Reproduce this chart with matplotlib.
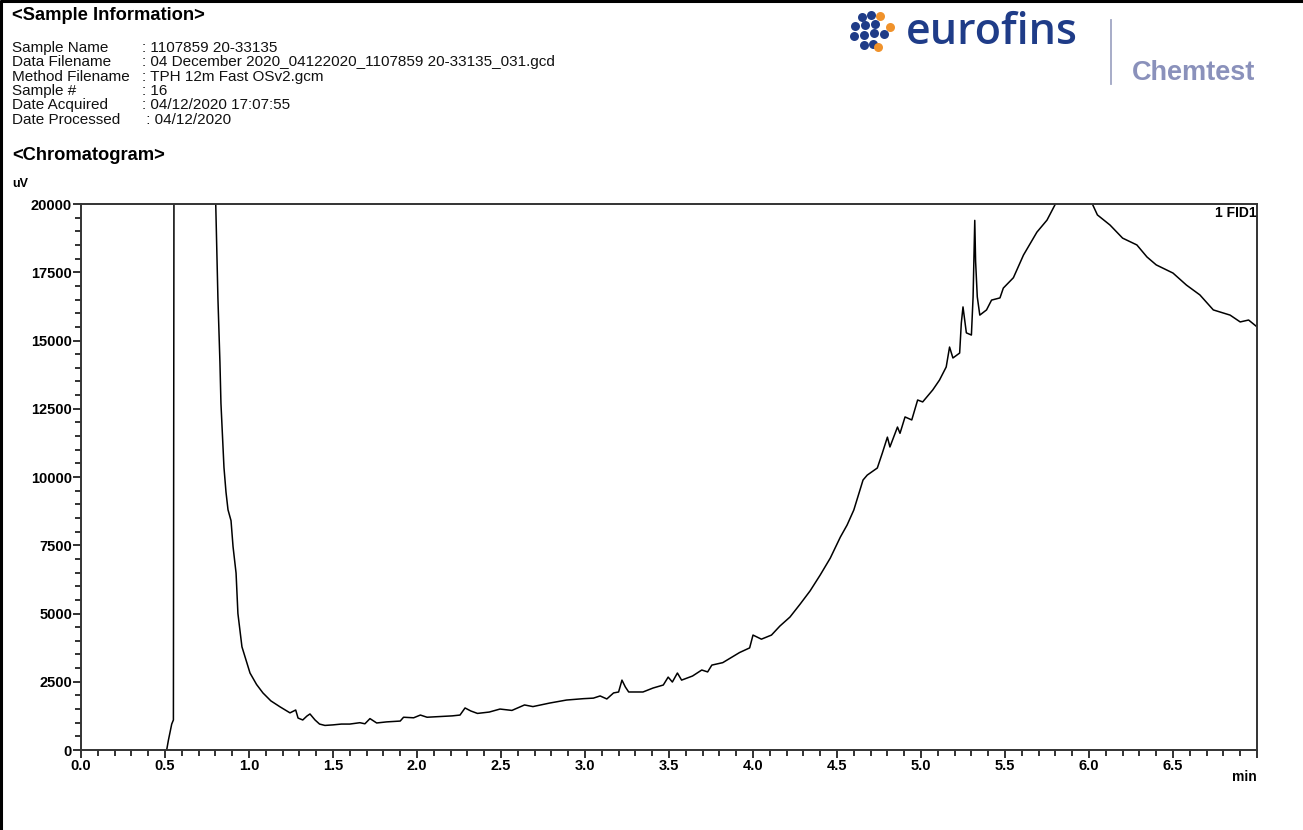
import matplotlib
matplotlib.use('Agg')
import matplotlib.pyplot as plt
from matplotlib.ticker import MultipleLocator

plt.rcParams['font.family'] = ['Liberation Sans', 'DejaVu Sans']

# Intestazione campione
info_labels = ['Sample Name', 'Data Filename', 'Method Filename', 'Sample #', 'Date Acquired', 'Date Processed']
info_values = [': 1107859 20-33135',
               ': 04 December 2020_04122020_1107859 20-33135_031.gcd',
               ': TPH 12m Fast OSv2.gcm',
               ': 16',
               ': 04/12/2020 17:07:55',
               ' : 04/12/2020']

# Cromatogramma (min, uV)
tempo = [0.51, 0.52, 0.53, 0.54, 0.55, 0.555, 0.56, 0.79, 0.802, 0.815, 0.827, 0.833, 0.843, 0.851,
         0.863, 0.875, 0.893, 0.905, 0.923, 0.934, 0.958, 1.006, 1.045, 1.083, 1.13, 1.185, 1.244,
         1.278, 1.292, 1.32, 1.345, 1.363, 1.393, 1.42, 1.452, 1.5, 1.55, 1.6, 1.66, 1.69, 1.72,
         1.76, 1.82, 1.9, 1.92, 1.98, 2.02, 2.06, 2.21, 2.256, 2.286, 2.32, 2.36, 2.43, 2.494,
         2.565, 2.64, 2.69, 2.79, 2.89, 2.99, 3.05, 3.09, 3.13, 3.17, 3.2, 3.22, 3.24, 3.26,
         3.345, 3.405, 3.466, 3.495, 3.52, 3.55, 3.575, 3.64, 3.695, 3.73, 3.755, 3.82, 3.92,
         3.98, 4.0, 4.05, 4.11, 4.16, 4.22, 4.28, 4.34, 4.4, 4.46, 4.52, 4.56, 4.6, 4.655, 4.68,
         4.74, 4.77, 4.8, 4.815, 4.86, 4.875, 4.905, 4.945, 4.98, 5.01, 5.07, 5.11, 5.15, 5.17,
         5.19, 5.23, 5.24, 5.25, 5.27, 5.3, 5.31, 5.32, 5.325, 5.335, 5.35, 5.39, 5.42, 5.47,
         5.49, 5.55, 5.61, 5.69, 5.75, 5.8, 5.9, 6.02, 6.05, 6.125, 6.2, 6.285, 6.345, 6.4, 6.5,
         6.58, 6.66, 6.74, 6.84, 6.9, 6.95, 7.0]
segnale = [0, 350, 650, 950, 1100, 30000, 30000, 30000, 20000, 16550, 14200, 12700, 11400, 10350,
           9450, 8800, 8400, 7450, 6480, 5000, 3780, 2820, 2400, 2090, 1800, 1580, 1360,
           1465, 1170, 1100, 1245, 1320, 1100, 950, 900, 920, 950, 950, 1000, 960, 1150,
           990, 1030, 1060, 1200, 1180, 1280, 1200, 1250, 1280, 1540, 1430, 1340, 1390, 1500,
           1450, 1650, 1590, 1720, 1830, 1880, 1900, 1980, 1870, 2090, 2125, 2560, 2310, 2125,
           2125, 2270, 2380, 2670, 2490, 2820, 2560, 2710, 2930, 2860, 3110, 3200, 3570,
           3740, 4210, 4060, 4210, 4540, 4870, 5340, 5830, 6410, 7030, 7800, 8240, 8790, 9890, 10070,
           10330, 10880, 11460, 11100, 11830, 11600, 12200, 12090, 12820, 12750, 13190, 13550, 14030, 14760,
           14360, 14540, 15640, 16230, 15280, 15200, 16590, 19400, 17900, 16600, 15930, 16120, 16480, 16560,
           16920, 17300, 18130, 18970, 19410, 20000, 21500, 20000, 19600, 19230, 18750, 18500, 18060, 17770, 17470,
           17030, 16670, 16120, 15930, 15680, 15750, 15500]

x_ticks = [0.0, 0.5, 1.0, 1.5, 2.0, 2.5, 3.0, 3.5, 4.0, 4.5, 5.0, 5.5, 6.0, 6.5, 7.0]
x_labels = ['0.0', '0.5', '1.0', '1.5', '2.0', '2.5', '3.0', '3.5', '4.0', '4.5', '5.0', '5.5', '6.0', '6.5', '']
y_ticks = [0, 2500, 5000, 7500, 10000, 12500, 15000, 17500, 20000]

W, H = 1303, 830
fig = plt.figure(figsize=(W / 100, H / 100), dpi=100)

# Pagina in coordinate pixel per intestazione e logo
page = fig.add_axes([0, 0, 1, 1])
page.set_xlim(0, W)
page.set_ylim(H, 0)
page.axis('off')

page.plot([1, 1], [0, H], color='black', lw=2.2, solid_capstyle='butt')
page.plot([0, W], [1, 1], color='black', lw=2.2, solid_capstyle='butt')

page.text(12, 15, '<Sample Information>', fontsize=13.2, fontweight='bold', va='center', ha='left')
for i, (lab, val) in enumerate(zip(info_labels, info_values)):
    yy = 48 + i * 14.3
    page.text(12, yy, lab, fontsize=11, va='center', ha='left', color='#111111')
    page.text(142, yy, val, fontsize=11, va='center', ha='left', color='#111111')
page.text(12, 156, '<Chromatogram>', fontsize=13.2, fontweight='bold', va='center', ha='left')
page.text(12, 184, 'uV', fontsize=9, fontweight='bold', va='center', ha='left')

# Logo
blu = '#1f3c88'
arancio = '#f0922b'
dots_blu = [(862, 17), (871, 15), (855, 26), (865, 25), (875, 24), (854, 36), (864, 35), (874, 33),
            (884, 34), (864, 45), (873, 44)]
dots_ar = [(880, 16), (890, 27), (878, 47)]
page.scatter([d[0] for d in dots_blu], [d[1] for d in dots_blu], s=42, color=blu, linewidths=0)
page.scatter([d[0] for d in dots_ar], [d[1] for d in dots_ar], s=42, color=arancio, linewidths=0)
page.text(906, 32, 'eurofins', fontsize=31, color=blu, va='center', ha='left',
          family='Open Sans', fontweight='semibold')
page.plot([1111, 1111], [20, 84], color='#a0a6c4', lw=1.3)
page.text(1132, 73, 'Chemtest', fontsize=19.5, fontweight='bold', color='#8a91bb', va='center', ha='left')

# Grafico
ax = fig.add_axes([81 / W, 1 - 750 / H, (1257 - 81) / W, (750 - 204) / H])
ax.patch.set_alpha(0)
ax.plot(tempo, segnale, color='black', lw=1.1)
ax.set_xlim(0, 7)
ax.set_ylim(0, 20000)

ax.set_xticks(x_ticks)
ax.set_xticklabels(x_labels)
ax.set_yticks(y_ticks)
ax.set_yticklabels([str(v) for v in y_ticks])
ax.xaxis.set_minor_locator(MultipleLocator(0.1))
ax.yaxis.set_minor_locator(MultipleLocator(500))
ax.tick_params(which='major', length=6, width=1.3, color='#222222', labelsize=10.5, pad=0.5)
ax.tick_params(which='minor', length=4, width=1.3, color='#222222')
for lab in ax.get_xticklabels() + ax.get_yticklabels():
    lab.set_fontweight('bold')
for sp in ax.spines.values():
    sp.set_color('#333333')
    sp.set_linewidth(1.4)

ax.text(1.0, 0.997, '1 FID1', transform=ax.transAxes, ha='right', va='top', fontsize=10, fontweight='bold')
ax.text(1.0, -0.036, 'min', transform=ax.transAxes, ha='right', va='top', fontsize=10, fontweight='bold')

fig.savefig('out.png', dpi=100)
